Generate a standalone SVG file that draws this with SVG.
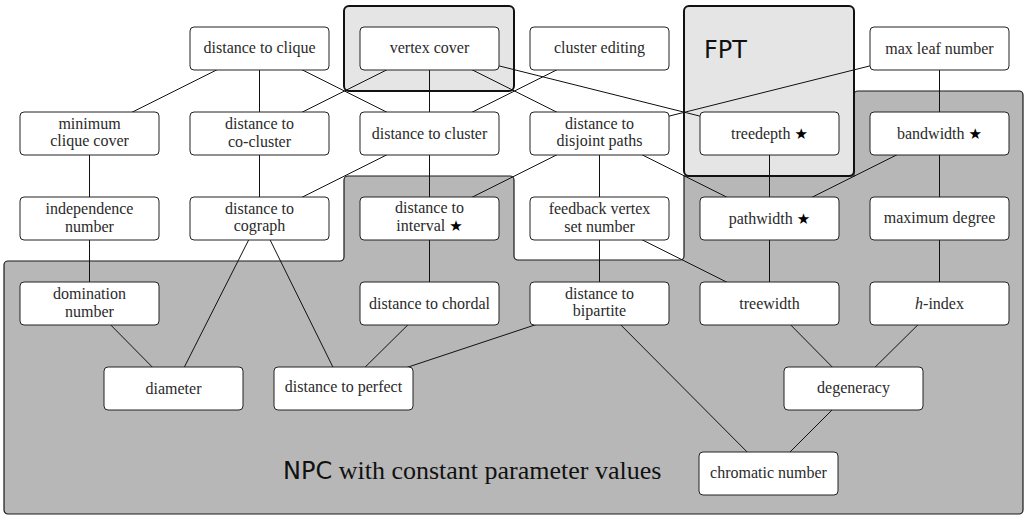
<svg xmlns="http://www.w3.org/2000/svg" width="1026" height="516" viewBox="0 0 1026 516">
  <style>
    .node rect { fill: #ffffff; stroke: #222222; stroke-width: 1; }
    .node text { font-family: "Liberation Serif", "Times New Roman", serif; font-size: 16px; fill: #2a2a2a; text-anchor: middle; }
    .star { font-family: "DejaVu Sans", sans-serif; font-size: 15px; fill: #000; }
    .edges line { stroke: #111111; stroke-width: 1; }
    .npc { fill: #b7b7b7; stroke: #1a1a1a; stroke-width: 1.2; }
    .fpt { fill: #e5e5e5; stroke: #111111; stroke-width: 2; }
    .sf { font-family: "DejaVu Sans", sans-serif; }
    .rm { font-family: "Liberation Serif", "Times New Roman", serif; }
  </style>

  <!-- NP-complete region: union of rectangles with rounded convex and concave corners -->
  <path id="npc-region" class="npc" d="M 4 265 A 4 4 0 0 1 8 261 H 340 A 4 4 0 0 0 344 257 V 180 A 4 4 0 0 1 348 176 H 510 A 4 4 0 0 1 514 180 V 256 A 4 4 0 0 0 518 260 H 680 A 4 4 0 0 0 684 256 V 176 H 854 V 95 A 4 4 0 0 1 858 91 H 1019 A 4 4 0 0 1 1023 95 V 510 A 4 4 0 0 1 1019 514 H 8 A 4 4 0 0 1 4 510 Z"/>

  <!-- FPT regions -->
  <rect id="fpt-vc" class="fpt" x="344" y="6" width="170" height="85" rx="5"/>
  <rect id="fpt-main" class="fpt" x="684" y="6" width="170" height="170" rx="5"/>
  <text class="sf" x="704" y="58" font-size="24" fill="#111">FPT</text>

  <text x="283" y="479" font-size="26" fill="#111"><tspan class="sf" font-size="24">NPC</tspan><tspan class="rm"> with constant parameter values</tspan></text>

  <!-- connectors (centre to centre, nodes are drawn on top) -->
  <g id="connectors" class="edges">
    <line x1="259.5" y1="48.5" x2="89.5" y2="133.5"/>
    <line x1="259.5" y1="48.5" x2="259.5" y2="133.5"/>
    <line x1="259.5" y1="48.5" x2="429.5" y2="133.5"/>
    <line x1="429.5" y1="48.5" x2="259.5" y2="133.5"/>
    <line x1="429.5" y1="48.5" x2="429.5" y2="133.5"/>
    <line x1="429.5" y1="48.5" x2="599.5" y2="133.5"/>
    <line x1="429.5" y1="48.5" x2="769.5" y2="133.5"/>
    <line x1="599.5" y1="48.5" x2="429.5" y2="133.5"/>
    <line x1="939.5" y1="48.5" x2="599.5" y2="133.5"/>
    <line x1="939.5" y1="48.5" x2="939.5" y2="133.5"/>
    <line x1="89.5" y1="133.5" x2="89.5" y2="218.5"/>
    <line x1="259.5" y1="133.5" x2="259.5" y2="218.5"/>
    <line x1="429.5" y1="133.5" x2="259.5" y2="218.5"/>
    <line x1="429.5" y1="133.5" x2="429.5" y2="218.5"/>
    <line x1="599.5" y1="133.5" x2="429.5" y2="218.5"/>
    <line x1="599.5" y1="133.5" x2="599.5" y2="218.5"/>
    <line x1="599.5" y1="133.5" x2="769.5" y2="218.5"/>
    <line x1="769.5" y1="133.5" x2="769.5" y2="218.5"/>
    <line x1="939.5" y1="133.5" x2="769.5" y2="218.5"/>
    <line x1="939.5" y1="133.5" x2="939.5" y2="218.5"/>
    <line x1="89.5" y1="218.5" x2="89.5" y2="303.5"/>
    <line x1="259.5" y1="218.5" x2="173.5" y2="388.5"/>
    <line x1="259.5" y1="218.5" x2="343.5" y2="388.5"/>
    <line x1="429.5" y1="218.5" x2="429.5" y2="303.5"/>
    <line x1="599.5" y1="218.5" x2="599.5" y2="303.5"/>
    <line x1="599.5" y1="218.5" x2="769.5" y2="303.5"/>
    <line x1="769.5" y1="218.5" x2="769.5" y2="303.5"/>
    <line x1="939.5" y1="218.5" x2="939.5" y2="303.5"/>
    <line x1="89.5" y1="303.5" x2="173.5" y2="388.5"/>
    <line x1="429.5" y1="303.5" x2="343.5" y2="388.5"/>
    <line x1="599.5" y1="303.5" x2="343.5" y2="388.5"/>
    <line x1="599.5" y1="303.5" x2="768.5" y2="473.5"/>
    <line x1="769.5" y1="303.5" x2="853.5" y2="388.5"/>
    <line x1="939.5" y1="303.5" x2="853.5" y2="388.5"/>
    <line x1="853.5" y1="388.5" x2="768.5" y2="473.5"/>
  </g>

  <!-- row 1 -->
  <g id="distance-to-clique" class="node"><rect x="190" y="27" width="139" height="43" rx="4"/><text x="259.5" y="53">distance to clique</text></g>
  <g id="vertex-cover" class="node"><rect x="360" y="27" width="139" height="43" rx="4"/><text x="429.5" y="53">vertex cover</text></g>
  <g id="cluster-editing" class="node"><rect x="530" y="27" width="139" height="43" rx="4"/><text x="599.5" y="53">cluster editing</text></g>
  <g id="max-leaf-number" class="node"><rect x="870" y="27" width="139" height="43" rx="4"/><text x="939.5" y="53.5">max leaf number</text></g>

  <!-- row 2 -->
  <g id="minimum-clique-cover" class="node"><rect x="20" y="112" width="139" height="43" rx="4"/><text x="89.5" y="128.5">minimum</text><text x="89.5" y="146">clique cover</text></g>
  <g id="distance-to-co-cluster" class="node"><rect x="190" y="112" width="139" height="43" rx="4"/><text x="259.5" y="129">distance to</text><text x="259.5" y="146.5">co-cluster</text></g>
  <g id="distance-to-cluster" class="node"><rect x="360" y="112" width="139" height="43" rx="4"/><text x="429.5" y="138.5">distance to cluster</text></g>
  <g id="distance-to-disjoint-paths" class="node"><rect x="530" y="112" width="139" height="43" rx="4"/><text x="599.5" y="128.5">distance to</text><text x="599.5" y="146">disjoint paths</text></g>
  <g id="treedepth" class="node"><rect x="700" y="112" width="139" height="43" rx="4"/><text x="769.5" y="138.5">treedepth <tspan class="star">★</tspan></text></g>
  <g id="bandwidth" class="node"><rect x="870" y="112" width="139" height="43" rx="4"/><text x="939.5" y="138.5">bandwidth <tspan class="star">★</tspan></text></g>

  <!-- row 3 -->
  <g id="independence-number" class="node"><rect x="20" y="197" width="139" height="43" rx="4"/><text x="89.5" y="214">independence</text><text x="89.5" y="231.5">number</text></g>
  <g id="distance-to-cograph" class="node"><rect x="190" y="197" width="139" height="43" rx="4"/><text x="259.5" y="213.5">distance to</text><text x="259.5" y="231">cograph</text></g>
  <g id="distance-to-interval" class="node"><rect x="360" y="197" width="139" height="43" rx="4"/><text x="429.5" y="213">distance to</text><text x="429.5" y="231">interval <tspan class="star">★</tspan></text></g>
  <g id="feedback-vertex-set-number" class="node"><rect x="530" y="197" width="139" height="43" rx="4"/><text x="599.5" y="214">feedback vertex</text><text x="599.5" y="231.5">set number</text></g>
  <g id="pathwidth" class="node"><rect x="700" y="197" width="139" height="43" rx="4"/><text x="769.5" y="223.5">pathwidth <tspan class="star">★</tspan></text></g>
  <g id="maximum-degree" class="node"><rect x="870" y="197" width="139" height="43" rx="4"/><text x="939.5" y="223">maximum degree</text></g>

  <!-- row 4 -->
  <g id="domination-number" class="node"><rect x="20" y="282" width="139" height="43" rx="4"/><text x="89.5" y="299">domination</text><text x="89.5" y="316.5">number</text></g>
  <g id="distance-to-chordal" class="node"><rect x="360" y="282" width="139" height="43" rx="4"/><text x="429.5" y="308.5">distance to chordal</text></g>
  <g id="distance-to-bipartite" class="node"><rect x="530" y="282" width="139" height="43" rx="4"/><text x="599.5" y="298.5">distance to</text><text x="599.5" y="316">bipartite</text></g>
  <g id="treewidth" class="node"><rect x="700" y="282" width="139" height="43" rx="4"/><text x="769.5" y="308.5">treewidth</text></g>
  <g id="h-index" class="node"><rect x="870" y="282" width="139" height="43" rx="4"/><text x="939.5" y="308.5"><tspan font-style="italic">h</tspan>-index</text></g>

  <!-- row 5 -->
  <g id="diameter" class="node"><rect x="104" y="367" width="139" height="43" rx="4"/><text x="173.5" y="393.5">diameter</text></g>
  <g id="distance-to-perfect" class="node"><rect x="274" y="367" width="139" height="43" rx="4"/><text x="343.5" y="391.5">distance to perfect</text></g>
  <g id="degeneracy" class="node"><rect x="784" y="367" width="139" height="43" rx="4"/><text x="853.5" y="392.5">degeneracy</text></g>

  <!-- row 6 -->
  <g id="chromatic-number" class="node"><rect x="699" y="452" width="139" height="43" rx="4"/><text x="768.5" y="478">chromatic number</text></g>
</svg>
